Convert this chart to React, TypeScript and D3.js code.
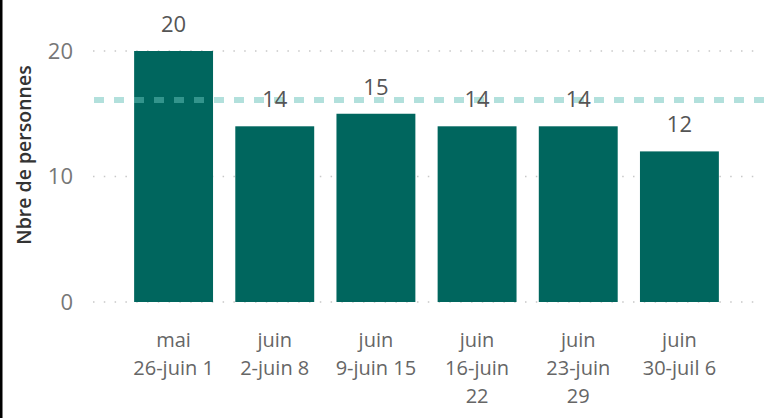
import React from "react";
import * as d3 from "d3";

const categories = [
  "mai 26-juin 1",
  "juin 2-juin 8",
  "juin 9-juin 15",
  "juin 16-juin 22",
  "juin 23-juin 29",
  "juin 30-juil 6",
];
const tickLines = [
  ["mai", "26-juin 1"],
  ["juin", "2-juin 8"],
  ["juin", "9-juin 15"],
  ["juin", "16-juin", "22"],
  ["juin", "23-juin", "29"],
  ["juin", "30-juil 6"],
];
const values = [20, 14, 15, 14, 14, 12];
const yTicks = [0, 10, 20];
const refValue = 16.1;
const yTitle = "Nbre de personnes";

const W = 767;
const H = 418;
const FONT = "'Segoe UI', 'Open Sans', sans-serif";

export default function App() {
  const x = d3
    .scaleBand<string>()
    .domain(categories)
    .range([123, 730])
    .paddingInner(0.22)
    .paddingOuter(0.11);
  const y = d3.scaleLinear().domain([0, 20]).range([302, 51]);
  const gridX0 = 93;
  const gridX1 = 757;

  return (
    <div style={{ position: "absolute", left: 0, top: 0 }}>
      <svg width={W} height={H} style={{ display: "block" }}>
        <rect x={0} y={0} width={W} height={H} fill="#fff" />
        <rect x={0} y={0} width={2.5} height={H} fill="#000" />
        {yTicks.map((t) => (
          <g key={t}>
            <line
              x1={gridX0}
              x2={gridX1}
              y1={y(t)}
              y2={y(t)}
              stroke="#c8c8c8"
              strokeWidth={1.5}
              strokeDasharray="1.5,9.3"
            />
            <text
              x={73}
              y={y(t)}
              dy="0.36em"
              textAnchor="end"
              fontFamily={FONT}
              fontSize={22}
              fill="#777"
            >
              {t}
            </text>
          </g>
        ))}
        <text
          transform={`translate(31,155) rotate(-90)`}
          textAnchor="middle"
          fontFamily={FONT}
          fontSize={19.5}
          fontWeight={600}
          fill="#333"
        >
          {yTitle}
        </text>
        {categories.map((c, i) => (
          <rect
            key={c}
            x={x(c)}
            y={y(values[i])}
            width={x.bandwidth()}
            height={y(0) - y(values[i])}
            fill="#00665E"
          />
        ))}
        <line
          x1={94}
          x2={764}
          y1={y(refValue)}
          y2={y(refValue)}
          stroke="#66C2BA"
          strokeOpacity={0.5}
          strokeWidth={6}
          strokeDasharray="10,10"
        />
        {categories.map((c, i) => (
          <text
            key={c}
            x={(x(c) as number) + x.bandwidth() / 2}
            y={y(values[i]) - 19}
            textAnchor="middle"
            fontFamily={FONT}
            fontSize={22}
            fill="#555"
          >
            {values[i]}
          </text>
        ))}
        {categories.map((c, i) => (
          <text
            key={c}
            x={(x(c) as number) + x.bandwidth() / 2}
            y={347}
            textAnchor="middle"
            fontFamily={FONT}
            fontSize={20}
            fill="#666"
          >
            {tickLines[i].map((l, j) => (
              <tspan key={j} x={(x(c) as number) + x.bandwidth() / 2} y={347 + j * 28}>
                {l}
              </tspan>
            ))}
          </text>
        ))}
      </svg>
    </div>
  );
}
